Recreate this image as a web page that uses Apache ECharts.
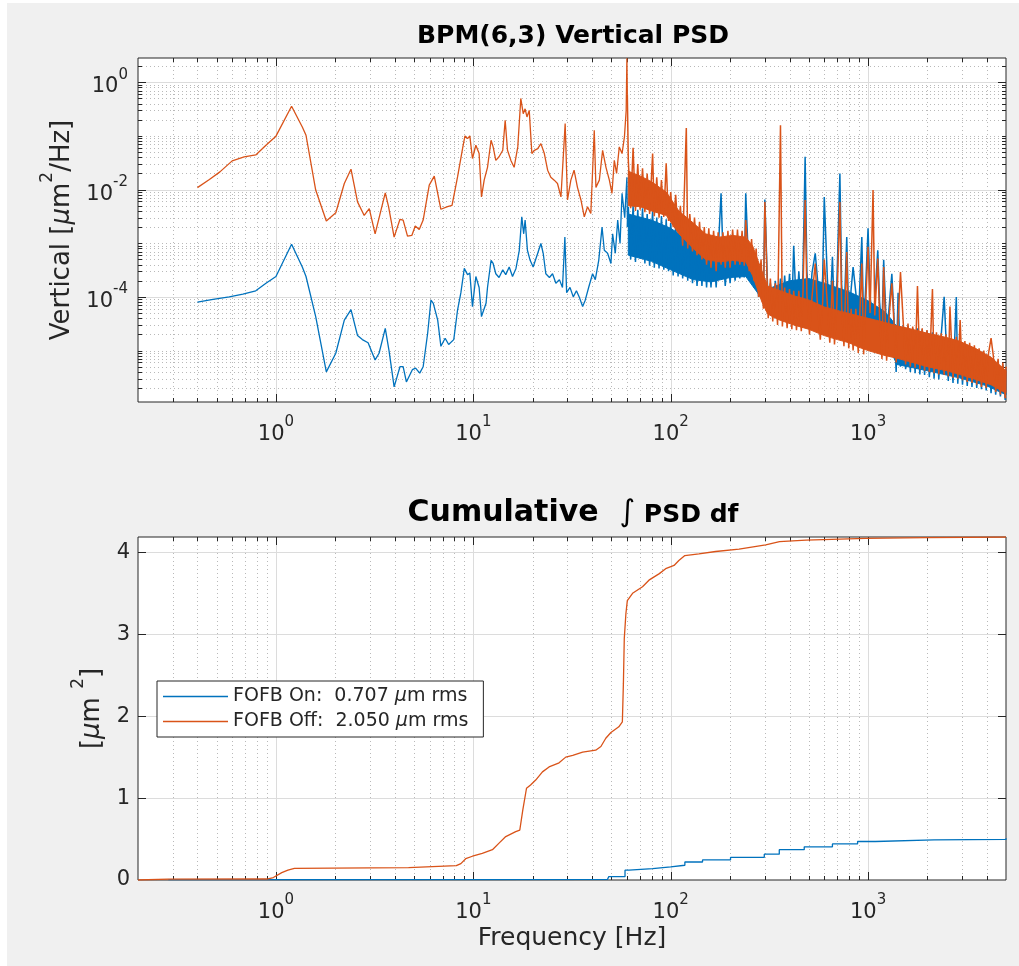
<!DOCTYPE html>
<html><head><meta charset="utf-8">
<script src="https://cdn.jsdelivr.net/npm/echarts@6/dist/echarts.min.js"></script>
<style>
html,body{margin:0;padding:0;background:#fff;}
#bg{position:absolute;left:7px;top:3px;right:0;bottom:0;background:#f0f0f0;}
#chart{position:absolute;left:0;top:0;width:1019px;height:966px;}
</style></head>
<body><div id="bg"></div><div id="chart"></div>
<script>
// ---------------- data ----------------
const NAME_ON = 'FOFB On:  0.707 μm rms';
const NAME_OFF = 'FOFB Off:  2.050 μm rms';

// PSD, low-frequency part [Hz, um^2/Hz]
const psdOnLow = [[0.40,8e-5],[0.48,9e-5],[0.58,1.0e-4],[0.68,1.13e-4],[0.79,1.3e-4],[0.89,1.8e-4],[1.0,2.4e-4],[1.2,9.6e-4],[1.36,3.6e-4],[1.42,2.4e-4],[1.59,4.3e-5],[1.80,4.0e-6],[2.01,8.9e-6],[2.22,3.7e-5],[2.40,5.8e-5],[2.59,1.9e-5],[2.74,1.6e-5],[2.93,1.4e-5],[3.18,6.7e-6],[3.33,8.9e-6],[3.58,2.6e-5],[3.74,1.0e-5],[3.97,2.1e-6],[4.25,5.0e-6],[4.41,5.0e-6],[4.58,2.6e-6],[4.91,4.4e-6],[5.1,4.7e-6],[5.35,3.8e-6],[5.57,5.0e-6],[5.87,2.1e-5],[6.1,8.7e-5],[6.27,7.6e-5],[6.6,3.7e-5],[6.85,1.2e-5],[7.2,1.7e-5],[7.5,1.3e-5],[7.96,1.6e-5],[8.32,5.7e-5],[8.65,1.2e-4],[9.0,3.4e-4],[9.35,2.6e-4],[9.6,2.8e-4],[9.9,6.6e-5],[10.3,2.4e-4],[10.7,1.5e-4],[11.0,4.3e-5],[11.6,7.6e-5],[11.8,1.5e-4],[12.3,4.8e-4],[12.6,4.2e-4],[13.0,2.7e-4],[13.5,2.3e-4],[14.1,3.2e-4],[14.6,2.6e-4],[15.2,3.6e-4],[15.8,2.4e-4],[16.45,3.4e-4],[17.1,7.4e-4],[17.6,3.1e-3],[18.0,1.5e-3],[18.3,2.7e-3],[18.8,7.4e-4],[19.4,4.8e-4],[20.1,3.6e-4],[21.2,6.5e-4],[22.0,9.9e-4],[22.6,6.5e-4],[23.3,2.7e-4],[24.3,2.3e-4],[25.2,2.7e-4],[26.2,1.8e-4],[27.3,2.1e-4],[28.3,1.5e-4],[29.1,1.3e-3],[29.7,1.2e-4],[30.9,1.5e-4],[32.1,1.0e-4],[33.3,1.3e-4],[34.4,1.0e-4],[35.8,6.6e-5],[36.9,8.7e-5],[38.4,1.5e-4],[40.2,2.7e-4],[41.5,2.1e-4],[43.2,4.8e-4],[44.9,2.0e-3],[46.1,7.4e-4],[47.9,6.5e-4],[49.8,4.2e-4],[50.8,1.5e-3],[52.4,6.5e-4],[53.9,2.7e-3],[55.4,9.9e-4],[56.7,8.5e-3],[58.5,3e-3],[60,0.017],[60.4,2e-3]];

const psdOffLow = [[0.40,0.0109],[0.46,0.0154],[0.52,0.0214],[0.60,0.0343],[0.69,0.0407],[0.79,0.0443],[0.89,0.067],[1.0,0.099],[1.2,0.357],[1.36,0.147],[1.42,0.103],[1.59,0.0098],[1.80,0.0026],[2.01,0.0037],[2.22,0.013],[2.40,0.024],[2.59,0.0059],[2.80,0.0033],[2.97,0.0044],[3.18,0.0015],[3.58,0.0087],[3.72,0.0048],[3.97,0.0013],[4.25,0.0028],[4.41,0.0027],[4.64,0.00136],[4.88,0.0014],[5.08,0.0021],[5.32,0.0018],[5.57,0.0027],[5.98,0.0121],[6.34,0.0178],[6.85,0.0043],[7.40,0.0048],[7.8,0.0051],[8.32,0.0172],[8.82,0.058],[9.07,0.1],[9.35,0.089],[9.6,0.1],[9.9,0.038],[10.3,0.067],[10.7,0.047],[11.0,0.0073],[11.35,0.015],[11.8,0.026],[12.3,0.083],[12.6,0.0625],[13.0,0.035],[13.5,0.041],[14.1,0.054],[14.5,0.196],[14.9,0.054],[15.5,0.035],[16.1,0.026],[16.8,0.0625],[17.4,0.50],[17.9,0.26],[18.3,0.32],[18.7,0.226],[19.2,0.30],[19.8,0.047],[20.4,0.054],[21.2,0.058],[22.0,0.072],[22.9,0.047],[23.8,0.023],[24.7,0.017],[25.7,0.015],[26.7,0.013],[27.8,0.0073],[29.2,0.17],[30.0,0.0064],[31.2,0.015],[32.4,0.023],[33.7,0.011],[35.1,0.0064],[36.5,0.0031],[37.9,0.0048],[39.4,0.0036],[41.0,0.128],[41.8,0.011],[43.5,0.015],[45.2,0.054],[47.0,0.026],[48.9,0.015],[50.4,0.0085],[51.8,0.035],[53.2,0.020],[54.9,0.0625],[56.7,0.047],[58.3,0.096],[59.5,0.3],[60,2.8],[60.3,0.6]];

// PSD, dense high-frequency part (shared frequency list)
const freqDense = [
61,62.7,64.5,66.3,68.1,70,72,74,76,78.2,
81,82.6,85,87.3,89.8,92.3,94.9,97.5,100,103,
106,109,112,115,120,122,125,129,132,136,
140,144,148,152,156,160,165,170,174,180,
184,189,195,200,206,212,218,224,230,236,
240,250,257,264,271,279,287,295,300,312,
320,329,339,348,360,368,378,389,400,411,
420,434,446,459,468,480,490,505,520,540,
552,573,589,600,622,640,660,676,695,720,
735,755,780,798,821,840,867,892,930,950,
969,1000,1024,1060,1082,1120,1144,1176,1200,1242,
1277,1320,1350,1388,1420,1460,1508,1550,1594,1638,
1684,1732,1780,1830,1881,1934,1988,2044,2120,2160,
2221,2283,2347,2430,2481,2550,2600,2695,2800,2848,
2928,3010,3095,3181,3271,3362,3457,3554,3653,3756,
3861,3969,4080,4200,4312,4433,4558,4685,4817,4952,
5000];

const offDense = [
0.035,0.0045,0.06,0.004,0.03,0.0042,0.025,0.0038,0.02,0.0035,
0.047,0.0032,0.017,0.003,0.015,0.0031,0.031,0.0026,0.009,0.002,
0.008,0.0016,0.005,0.0009,0.14,0.0008,0.0035,0.0007,0.003,0.0006,
0.0025,0.0005,0.002,0.0004,0.0019,0.00035,0.0017,0.0003,0.0016,0.0004,
0.0016,0.00035,0.0017,0.00035,0.0018,0.0004,0.0018,0.0004,0.0017,0.00038,
0.0027,0.0003,0.0012,0.0002,0.0008,0.0001,0.0005,6e-5,0.0059,4e-5,
2.2e-4,3.5e-5,1.8e-4,3e-5,0.158,2.8e-5,1.5e-4,2.6e-5,1.4e-4,2.5e-5,
1.3e-4,2.4e-5,1.3e-4,2.3e-5,1.2e-4,0.0064,1.1e-4,2e-5,1e-4,4.2e-4,
9e-5,1.6e-5,8e-5,5e-4,7.5e-5,1.4e-5,2e-4,1.3e-5,7e-5,0.0059,
6.5e-5,1.2e-5,6.9e-4,1.1e-5,6e-5,1e-5,6e-5,9e-6,4.2e-4,8.5e-6,
5e-5,8.6e-4,5e-5,0.0098,4.5e-5,5.2e-4,4.2e-5,7e-6,3.6e-4,6.5e-6,
4e-5,1.8e-4,3.8e-5,6e-6,3.5e-5,2.9e-4,3.3e-5,5.5e-6,3.2e-5,5e-6,
2.8e-5,4.8e-6,1.6e-4,4.5e-6,2.6e-5,4.2e-6,2.4e-5,4e-6,1.4e-4,3.8e-6,
2.2e-5,3.6e-6,2.1e-5,3.5e-6,2e-5,3.3e-6,6.6e-5,3.1e-6,1.8e-5,3e-6,
3.7e-5,2.8e-6,1.5e-5,2.6e-6,1.4e-5,2.5e-6,1.25e-5,2.3e-6,1.1e-5,2.1e-6,
1e-5,2e-6,9e-6,1.7e-5,8e-6,1.7e-6,7e-6,1.5e-6,6e-6,1.3e-6,
5e-6];

const onDense = [
0.0048,5e-4,0.005,4.5e-4,0.0042,5.2e-4,0.0045,4.2e-4,0.0035,3.8e-4,
0.004,3.5e-4,0.003,3.4e-4,0.0032,3.2e-4,0.0028,3e-4,0.0024,2.5e-4,
0.0022,2.4e-4,0.002,2.2e-4,0.0019,2e-4,0.0015,1.8e-4,0.0013,1.6e-4,
0.0011,1.6e-4,0.001,1.5e-4,9e-4,1.5e-4,8e-4,1.5e-4,7e-4,0.0085,
6.5e-4,1.6e-4,6.4e-4,1.8e-4,7e-4,2e-4,7.4e-4,2.2e-4,8e-4,2.3e-4,
0.0085,2e-4,6.5e-4,1.5e-4,5e-4,1e-4,3.5e-4,8e-5,0.0065,6e-5,
1.8e-4,5e-5,2e-4,5e-5,2.2e-4,5e-5,2.5e-4,5e-5,2.7e-4,5e-5,
9e-4,5e-5,3e-4,5e-5,2.9e-4,0.041,3e-4,5e-5,2.8e-4,6.5e-4,
2.6e-4,4.5e-5,2.4e-4,0.0073,2.2e-4,4e-5,5.6e-4,4e-5,1.8e-4,0.02,
1.7e-4,3.8e-5,0.0013,3.6e-5,1.4e-4,3.6e-4,1.2e-4,3.2e-5,0.0013,3e-5,
1.1e-4,0.0019,1e-4,3e-5,9e-5,7.4e-4,8e-5,2.5e-5,4.9e-4,2.2e-5,
6e-5,2.7e-4,5e-5,4e-6,1.2e-4,5e-6,3e-5,4.5e-6,2.9e-5,4e-6,
2.6e-5,3.8e-6,2.6e-5,3.6e-6,2.5e-5,3.5e-6,2.3e-5,3.2e-6,2.2e-5,3e-6,
2e-5,2.9e-6,1.9e-5,1e-4,1.8e-5,2.7e-6,1.7e-5,2.5e-6,1e-4,2.4e-6,
1.5e-5,2.3e-6,1.3e-5,2.2e-6,1.2e-5,2.1e-6,1.1e-5,2e-6,1e-5,1.9e-6,
9e-6,1.8e-6,8e-6,1.6e-6,7e-6,1.5e-6,6.5e-6,1.4e-6,5.5e-6,1.2e-6,
4.5e-6];

// body of the dense noise band (inner envelope) for each trace
const offBandFreq = [61,70,80,95,110,130,150,176,206,240,260,290,310,350,420,500,600,700,800,900,1000,1200,1400,1600,2000,2500,2900,3500,4200,5000];
const offBandTop = [0.022,0.018,0.014,0.009,0.004,0.0024,0.0015,0.0013,0.0014,0.0013,0.0009,0.0003,1.6e-4,1.35e-4,1.05e-4,8.8e-5,6.5e-5,5.6e-5,4.9e-5,4.4e-5,4e-5,3.4e-5,2.9e-5,2.6e-5,2.1e-5,1.75e-5,1.5e-5,1.1e-5,7.5e-6,4.2e-6];
const offBandBot = [0.005,0.0048,0.004,0.0033,0.0015,0.0008,0.0005,0.00045,0.00048,0.00045,0.00025,8e-5,4.8e-5,3.8e-5,3e-5,2.5e-5,1.9e-5,1.6e-5,1.4e-5,1.15e-5,1e-5,8.2e-6,7.2e-6,6.3e-6,5e-6,4.2e-6,3.6e-6,2.9e-6,2.3e-6,1.6e-6];
const onBandFreq = [61,80,100,130,160,200,240,280,310,400,500,600,800,1000,1200,1300,1400,2000,2900,4000,5000];
const onBandTop = [0.0035,0.0027,0.0019,0.001,6.5e-4,5.3e-4,5.6e-4,2.5e-4,1.4e-4,2e-4,2.2e-4,1.8e-4,1.25e-4,8.5e-5,5.5e-5,4e-5,2.8e-5,2e-5,1.3e-5,7.5e-6,4e-6];
const onBandBot = [6e-4,4.6e-4,3.2e-4,2.1e-4,1.9e-4,2.3e-4,2.4e-4,1.1e-4,6.5e-5,6.5e-5,6.5e-5,5.5e-5,4.5e-5,3.6e-5,2.8e-5,1e-5,5.5e-6,4.2e-6,3.1e-6,2.2e-6,1.5e-6];

// cumulative integral of PSD [Hz, um^2]
const cumOn = [[0.285,0.004],[1.0,0.008],[47.9,0.01],[48.5,0.04],[58.7,0.12],[61.5,0.14],[81,0.16],[100,0.18],[118,0.22],[145,0.245],[201,0.275],[298,0.315],[355,0.37],[475,0.405],[660,0.44],[885,0.47],[1090,0.49],[2160,0.495],[5000,0.51]];
const cumOff = [[0.2,0],[0.285,0.01],[0.9,0.012],[0.97,0.03],[1.07,0.09],[1.15,0.12],[1.24,0.143],[4.7,0.15],[4.75,0.17],[8.2,0.175],[8.65,0.2],[9.15,0.26],[9.9,0.29],[11.1,0.325],[12.5,0.37],[13.5,0.45],[14.6,0.53],[16.4,0.59],[17.2,0.61],[17.8,0.85],[18.6,1.12],[19.5,1.16],[20.7,1.22],[22.4,1.32],[24.2,1.38],[27.2,1.43],[29.4,1.5],[31.9,1.52],[35.8,1.56],[41.7,1.585],[44.3,1.63],[46.9,1.73],[49.8,1.8],[54.6,1.87],[56.9,1.93],[57.6,2.4],[58.2,2.95],[59.3,3.25],[60.3,3.41],[64.1,3.5],[72,3.58],[77.6,3.66],[87.6,3.74],[94.3,3.8],[104,3.84],[110,3.9],[118,3.96],[139,3.98],[169,4.01],[222,4.04],[303,4.09],[356,4.13],[485,4.15],[970,4.17],[1960,4.18],[5000,4.187]];

// axes ranges / ticks
const X_MIN = 0.2, X_MAX = 5000;
const PSD_MIN = 1.1e-6, PSD_MAX = 2.835;
const CUM_MAX = 4.187;
const MULT = [2,3,4,5,6,7,8,9];
const X_DECADES = [0.1, 1, 10, 100, 1000];
const X_MAJOR = [1, 10, 100, 1000];
const PSD_DECADES = [1e-6, 1e-5, 1e-4, 1e-3, 1e-2, 1e-1, 1];
const PSD_MAJOR = [1e-4, 1e-2, 1];
const CUM_MAJOR = [1, 2, 3, 4];

// ---------------- build ----------------
const FONT = 'DejaVu Sans';
const TXT = '#262626';
const C_ON = '#0072BD', C_OFF = '#D95319';

function minorList(decades, major, lo, hi) {
  const out = [];
  decades.forEach(d => {
    if (!major.includes(d) && d > lo * 1.0001 && d < hi / 1.0001) out.push(d);
    MULT.forEach(m => { const v = +(d * m).toPrecision(6); if (v > lo * 1.0001 && v < hi / 1.0001) out.push(v); });
  });
  return out;
}
const xMinor = minorList(X_DECADES, X_MAJOR, X_MIN, X_MAX);
const psdMinor = minorList(PSD_DECADES, PSD_MAJOR, PSD_MIN, PSD_MAX);

const psdOnDense = [psdOnLow[psdOnLow.length - 1]].concat(freqDense.map((f, i) => [f, onDense[i]]));
const psdOffDense = [psdOffLow[psdOffLow.length - 1]].concat(freqDense.map((f, i) => [f, offDense[i]]));

const MAJOR_STYLE = { stroke: '#dcdcdc', lineWidth: 1 };
const MINOR_STYLE = { stroke: '#b9b9b9', lineWidth: 1, lineDash: [1, 3] };
const TICK_STYLE = { stroke: '#262626', lineWidth: 1 };

function gridSeries(gi, dir, majors, minors, refOther, drawMinorLines) {
  const data = majors.map(v => dir === 'v' ? [v, refOther, 1] : [refOther, v, 1])
    .concat(minors.map(v => dir === 'v' ? [v, refOther, 0] : [refOther, v, 0]));
  return {
    type: 'custom', xAxisIndex: gi, yAxisIndex: gi, silent: true, z: 1, animation: false,
    data,
    renderItem(params, api) {
      const cs = params.coordSys;
      const p = api.coord([api.value(0), api.value(1)]);
      const major = api.value(2) === 1;
      const tl = major ? 8 : 4;
      const ch = [];
      if (dir === 'v') {
        const x = Math.round(p[0]) + 0.5, t = cs.y, b = cs.y + cs.height;
        if (major || drawMinorLines) ch.push({ type: 'line', shape: { x1: x, y1: t, x2: x, y2: b }, style: major ? MAJOR_STYLE : MINOR_STYLE });
        ch.push({ type: 'line', shape: { x1: x, y1: b, x2: x, y2: b - tl }, style: TICK_STYLE });
        ch.push({ type: 'line', shape: { x1: x, y1: t, x2: x, y2: t + tl }, style: TICK_STYLE });
      } else {
        const y = Math.round(p[1]) + 0.5, l = cs.x, r = cs.x + cs.width;
        if (major || drawMinorLines) ch.push({ type: 'line', shape: { x1: l, y1: y, x2: r, y2: y }, style: major ? MAJOR_STYLE : MINOR_STYLE });
        ch.push({ type: 'line', shape: { x1: l, y1: y, x2: l + tl, y2: y }, style: TICK_STYLE });
        ch.push({ type: 'line', shape: { x1: r, y1: y, x2: r - tl, y2: y }, style: TICK_STYLE });
      }
      return { type: 'group', children: ch };
    }
  };
}

function bandSeries(freqs, top, bot, color, z) {
  return {
    type: 'custom', xAxisIndex: 0, yAxisIndex: 0, silent: true, z, animation: false,
    data: [[freqs[0], top[0]]],
    renderItem(params, api) {
      const pts = [];
      for (let i = 0; i < freqs.length; i++) pts.push(api.coord([freqs[i], top[i]]));
      for (let i = freqs.length - 1; i >= 0; i--) pts.push(api.coord([freqs[i], bot[i]]));
      return { type: 'polygon', shape: { points: pts }, style: { fill: color, stroke: color, lineWidth: 1 } };
    }
  };
}

function powLabel(v, step) {
  const l = Math.log10(v), e = Math.round(l);
  if (Math.abs(l - e) > 1e-6 || e % step !== 0) return '';
  return '{b|10}{s|' + (e === 0 ? 0 : e) + '}';
}
const LABEL_RICH = {
  b: { fontSize: 21, fontFamily: FONT, color: TXT, lineHeight: 30, verticalAlign: 'bottom' },
  s: { fontSize: 15, fontFamily: FONT, color: TXT, lineHeight: 14, verticalAlign: 'top' }
};
const NAME_RICH = {
  t: { fontSize: 26, fontFamily: FONT, color: TXT, lineHeight: 36, verticalAlign: 'bottom' },
  mu: { fontSize: 26, fontFamily: FONT, fontStyle: 'italic', color: TXT, lineHeight: 36, verticalAlign: 'bottom' },
  sup: { fontSize: 17, fontFamily: FONT, color: TXT, lineHeight: 19, verticalAlign: 'top' }
};

function logX(gi) {
  return {
    type: 'log', gridIndex: gi, min: X_MIN, max: X_MAX, logBase: 10,
    axisLine: { show: false }, axisTick: { show: false }, splitLine: { show: false }, minorTick: { show: false },
    axisLabel: { margin: 13, formatter: v => powLabel(v, 1), rich: LABEL_RICH }
  };
}
function psdLine(data, color, width, z) {
  return { type: 'line', xAxisIndex: 0, yAxisIndex: 0, data, showSymbol: false, symbol: 'none', silent: true, z,
    lineStyle: { color, width, join: 'bevel' }, itemStyle: { color } };
}

const chart = echarts.init(document.getElementById('chart'), null, { renderer: 'canvas' });
chart.setOption({
  animation: false,
  backgroundColor: 'transparent',
  textStyle: { fontFamily: FONT },
  grid: [
    { left: 138, right: 13, top: 58, bottom: 564, show: true, backgroundColor: '#fff', borderColor: '#262626', borderWidth: 1, containLabel: false },
    { left: 138, right: 13, top: 537, bottom: 86, show: true, backgroundColor: '#fff', borderColor: '#262626', borderWidth: 1, containLabel: false }
  ],
  xAxis: [
    logX(0),
    Object.assign(logX(1), {
      name: 'Frequency [Hz]', nameLocation: 'middle', nameGap: 46,
      nameTextStyle: { fontSize: 25, fontFamily: FONT, color: TXT }
    })
  ],
  yAxis: [
    {
      type: 'log', gridIndex: 0, min: PSD_MIN, max: PSD_MAX, logBase: 10,
      axisLine: { show: false }, axisTick: { show: false }, splitLine: { show: false },
      axisLabel: { margin: 10, formatter: v => powLabel(v, 2), rich: LABEL_RICH },
      name: '{t|Vertical [}{mu|μ}{t|m}{sup|2}{t|/Hz]}', nameLocation: 'middle', nameGap: 52,
      nameTextStyle: { rich: NAME_RICH }
    },
    {
      type: 'value', gridIndex: 1, min: 0, max: CUM_MAX, interval: 1,
      axisLine: { show: false }, axisTick: { show: false }, splitLine: { show: false },
      axisLabel: { margin: 8, fontSize: 21, fontFamily: FONT, color: TXT,
        formatter: v => (Math.abs(v - Math.round(v)) < 1e-9 ? String(Math.round(v)) : '') },
      name: '{t|[}{mu|μ}{t|m }{sup|2}{t|]}', nameLocation: 'middle', nameGap: 27,
      nameTextStyle: { rich: NAME_RICH }
    }
  ],
  legend: {
    data: [NAME_ON, NAME_OFF], orient: 'vertical', left: 157, top: 681,
    icon: 'rect', itemWidth: 65, itemHeight: 1.5, itemGap: 6,
    padding: [6, 15, 6, 6], backgroundColor: '#fff', borderColor: '#262626', borderWidth: 1,
    borderRadius: 0, selectedMode: false,
    formatter: n => '{t|' + n.replace('μ', '}{mu|μ}{t|') + '}',
    textStyle: {
      fontSize: 19, fontFamily: FONT, color: TXT,
      rich: {
        t: { fontSize: 19, fontFamily: FONT, color: TXT, lineHeight: 19 },
        mu: { fontSize: 19, fontFamily: FONT, fontStyle: 'italic', color: TXT, lineHeight: 19 }
      }
    }
  },
  graphic: [
    { type: 'text', x: 573, y: 36, silent: true,
      style: { text: 'BPM(6,3) Vertical PSD', fontSize: 25, fontWeight: 'bold', fontFamily: FONT, fill: '#000', align: 'center', verticalAlign: 'middle' } },
    { type: 'text', x: 573, y: 511, silent: true,
      style: {
        text: '{c|Cumulative}{c|  }{i|∫}{p| PSD df}', align: 'center', verticalAlign: 'middle',
        rich: {
          c: { fontSize: 30, fontWeight: 'bold', fontFamily: FONT, fill: '#000', lineHeight: 34, verticalAlign: 'bottom' },
          i: { fontSize: 30, fontWeight: 'normal', fontFamily: FONT, fill: '#000', lineHeight: 34, verticalAlign: 'bottom' },
          p: { fontSize: 25, fontWeight: 'bold', fontFamily: FONT, fill: '#000', lineHeight: 30, verticalAlign: 'bottom' }
        }
      } }
  ],
  series: [
    gridSeries(0, 'v', X_MAJOR, xMinor, 1, true),
    gridSeries(0, 'h', PSD_MAJOR, psdMinor, 1, true),
    gridSeries(1, 'v', X_MAJOR, xMinor, 1, true),
    gridSeries(1, 'h', CUM_MAJOR, [], 1, false),
    bandSeries(onBandFreq, onBandTop, onBandBot, C_ON, 2),
    psdLine(psdOnLow, C_ON, 1.3, 3),
    psdLine(psdOnDense, C_ON, 1.5, 3),
    bandSeries(offBandFreq, offBandTop, offBandBot, C_OFF, 4),
    psdLine(psdOffLow, C_OFF, 1.3, 5),
    psdLine(psdOffDense, C_OFF, 1.5, 5),
    { type: 'line', name: NAME_ON, xAxisIndex: 1, yAxisIndex: 1, data: cumOn, step: 'end', showSymbol: false, symbol: 'none',
      lineStyle: { color: C_ON, width: 1.3 }, itemStyle: { color: C_ON }, z: 3, silent: true },
    { type: 'line', name: NAME_OFF, xAxisIndex: 1, yAxisIndex: 1, data: cumOff, showSymbol: false, symbol: 'none',
      lineStyle: { color: C_OFF, width: 1.3, join: 'bevel' }, itemStyle: { color: C_OFF }, z: 3, silent: true }
  ]
});
</script></body></html>
